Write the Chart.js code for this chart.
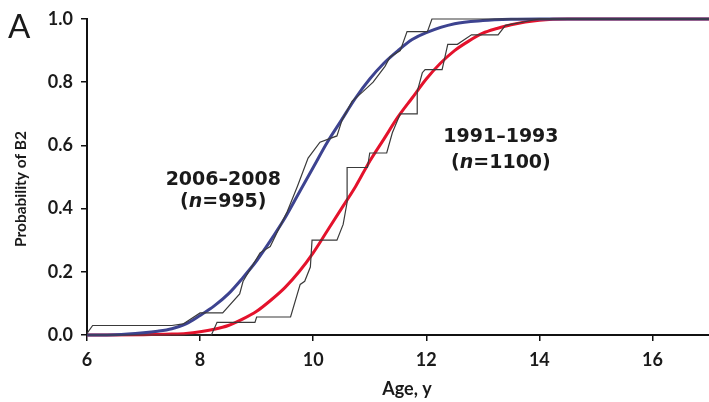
<!DOCTYPE html>
<html>
<head>
<meta charset="utf-8">
<script src="https://cdn.jsdelivr.net/npm/chart.js@4/dist/chart.umd.min.js"></script>
<style>
  html, body { margin: 0; padding: 0; background: #fff; }
  #wrap { width: 709px; height: 402px; position: relative; }
</style>
</head>
<body>
<div id="wrap"><canvas id="chart"></canvas></div>
<script>
// fitted curves
const fitAges2006 = [6, 6.5, 7, 7.25, 7.5, 7.75, 8, 8.25, 8.5, 8.75, 9, 9.25, 9.5, 9.75, 10, 10.25, 10.5, 10.75, 11, 11.25, 11.5, 11.75, 12, 12.5, 13, 13.5, 14, 17];
const fitProb2006 = [0, 0.001, 0.007, 0.012, 0.02, 0.035, 0.062, 0.092, 0.13, 0.18, 0.235, 0.30, 0.37, 0.45, 0.53, 0.61, 0.68, 0.75, 0.81, 0.86, 0.90, 0.935, 0.957, 0.985, 0.995, 0.999, 1, 1];

const fitAges1991 = [6, 7, 7.5, 7.75, 8, 8.25, 8.5, 8.75, 9, 9.25, 9.5, 9.75, 10, 10.25, 10.5, 10.75, 11, 11.25, 11.5, 11.75, 12, 12.25, 12.5, 12.75, 13, 13.25, 13.5, 14, 14.5, 17];
const fitProb1991 = [0, 0.001, 0.003, 0.005, 0.01, 0.018, 0.03, 0.05, 0.075, 0.11, 0.15, 0.20, 0.26, 0.33, 0.40, 0.47, 0.55, 0.62, 0.69, 0.75, 0.81, 0.86, 0.90, 0.93, 0.955, 0.97, 0.982, 0.996, 1, 1];

// observed proportions (thin lines)
const obsAges2006 = [6, 6.1, 7.5, 7.7, 8, 8.4, 8.7, 8.76, 9.06, 9.24, 9.54, 9.72, 9.91, 10.12, 10.42, 10.51, 10.69, 10.88, 11.06, 11.27, 11.36, 11.54, 11.66, 12.02, 12.1, 17];
const obsProb2006 = [0.005, 0.03, 0.03, 0.035, 0.07, 0.07, 0.13, 0.17, 0.26, 0.28, 0.39, 0.47, 0.56, 0.61, 0.63, 0.68, 0.74, 0.77, 0.80, 0.85, 0.88, 0.90, 0.96, 0.96, 1, 1];

const obsAges1991 = [6, 8.2, 8.3, 8.97, 9.0, 9.6, 9.77, 9.85, 9.95, 9.98, 10.42, 10.53, 10.6, 10.6, 10.96, 11.0, 11.3, 11.4, 11.54, 11.84, 11.84, 11.93, 11.98, 12.28, 12.38, 12.55, 12.8, 13.27, 13.4, 14.0, 17];
const obsProb1991 = [0, 0, 0.04, 0.04, 0.057, 0.057, 0.16, 0.17, 0.215, 0.30, 0.30, 0.35, 0.42, 0.53, 0.53, 0.576, 0.576, 0.64, 0.70, 0.70, 0.77, 0.83, 0.84, 0.84, 0.92, 0.92, 0.95, 0.95, 0.98, 1, 1];

const xTicks = [6, 8, 10, 12, 14, 16];
const yTicks = [0, 0.2, 0.4, 0.6, 0.8, 1.0];

const periodLabels = ['2006\u20132008', '1991\u20131993'];
const periodCounts = ['995', '1100'];

function toPoints(xs, ys){
    return xs.map((x, i) => ({x: x, y: ys[i]}));
}

const textPlugin = {
    id: 'textPlugin',
    afterDraw(chart){
        const ctx = chart.ctx;
        const xs = chart.scales.x;
        const ys = chart.scales.y;
        const area = chart.chartArea;
        ctx.save();
        ctx.fillStyle = '#1a1a1a';
        ctx.textBaseline = 'middle';

        // panel letter
        ctx.font = '33px Lato';
        ctx.textAlign = 'left';
        ctx.fillText('A', 8, 27);

        // axis titles
        ctx.font = 'bold 18px Lato';
        ctx.textAlign = 'center';
        ctx.fillText('Age, y', 407, 389);
        ctx.font = 'bold 15.5px Lato';
        ctx.save();
        ctx.translate(21, (area.top + area.bottom) / 2 + 12);
        ctx.rotate(-Math.PI / 2);
        ctx.fillText('Probability of B2', 0, 0);
        ctx.restore();

        // period annotations
        const spots = [[8.41, 0.49, 0.42], [13.32, 0.625, 0.545]];
        spots.forEach((s, i) => {
            const cx = xs.getPixelForValue(s[0]);
            ctx.font = 'bold 19px "DejaVu Sans"';
            ctx.textAlign = 'center';
            ctx.fillText(periodLabels[i], cx, ys.getPixelForValue(s[1]));

            const y2 = ys.getPixelForValue(s[2]);
            const parts = [['(', 'bold 19px "DejaVu Sans"'], ['n', 'italic bold 19px "DejaVu Sans"'], ['=' + periodCounts[i] + ')', 'bold 19px "DejaVu Sans"']];
            let total = 0;
            parts.forEach(p => { ctx.font = p[1]; total += ctx.measureText(p[0]).width; });
            let x = cx - total / 2;
            ctx.textAlign = 'left';
            parts.forEach(p => {
                ctx.font = p[1];
                ctx.fillText(p[0], x, y2);
                x += ctx.measureText(p[0]).width;
            });
        });
        ctx.restore();
    }
};

const ctx = document.getElementById('chart');
new Chart(ctx, {
    type: 'line',
    data: {
        datasets: [
            {
                data: toPoints(obsAges2006, obsProb2006),
                borderColor: '#3a3a3a',
                borderWidth: 1.2,
                pointRadius: 0,
                tension: 0
            },
            {
                data: toPoints(obsAges1991, obsProb1991),
                borderColor: '#3a3a3a',
                borderWidth: 1.2,
                pointRadius: 0,
                tension: 0
            },
            {
                data: toPoints(fitAges2006, fitProb2006),
                borderColor: '#3d4390',
                borderWidth: 3,
                pointRadius: 0,
                cubicInterpolationMode: 'monotone'
            },
            {
                data: toPoints(fitAges1991, fitProb1991),
                borderColor: '#e4122c',
                borderWidth: 3,
                pointRadius: 0,
                cubicInterpolationMode: 'monotone'
            }
        ]
    },
    options: {
        responsive: true,
        maintainAspectRatio: false,
        animation: false,
        devicePixelRatio: 1,
        clip: false,
        layout: { padding: { top: 19, right: 0, left: 0, bottom: 0 } },
        plugins: {
            legend: { display: false },
            tooltip: { enabled: false }
        },
        scales: {
            x: {
                type: 'linear',
                min: 6,
                max: 17,
                afterBuildTicks: (axis) => { axis.ticks = xTicks.map(v => ({value: v})); },
                afterFit: (axis) => { axis.height = 67; },
                grid: { drawOnChartArea: false, tickLength: 6, color: '#111', lineWidth: 1.5 },
                border: { display: true, color: '#111', width: 2 },
                ticks: {
                    color: '#1a1a1a',
                    padding: 8,
                    maxRotation: 0,
                    font: { family: 'Lato', weight: 'bold', size: 18 }
                }
            },
            y: {
                min: 0,
                max: 1,
                afterBuildTicks: (axis) => { axis.ticks = yTicks.map(v => ({value: v})); },
                afterFit: (axis) => { axis.width = 87; },
                grid: { drawOnChartArea: false, tickLength: 6, color: '#111', lineWidth: 1.5 },
                border: { display: true, color: '#111', width: 2 },
                ticks: {
                    color: '#1a1a1a',
                    padding: 8,
                    callback: (v) => v.toFixed(1),
                    font: { family: 'Lato', weight: 'bold', size: 18 }
                }
            }
        }
    },
    plugins: [textPlugin]
});
</script>
</body>
</html>
